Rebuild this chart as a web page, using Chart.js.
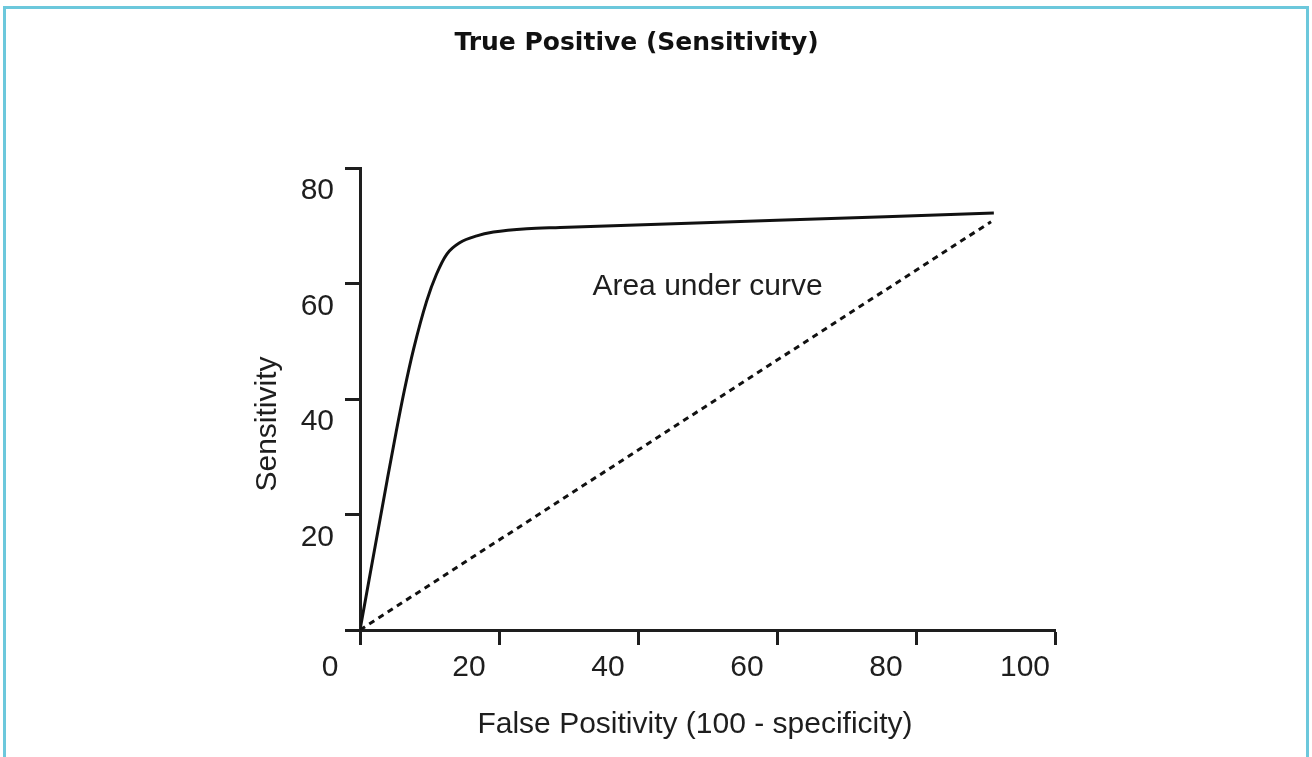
<!DOCTYPE html>
<html>
<head>
<meta charset="utf-8">
<script src="https://cdn.jsdelivr.net/npm/chart.js@4.4.1/dist/chart.umd.min.js"></script>
<style>
  body { margin: 0; background: #fff; overflow: hidden; }
  #frame {
    position: absolute; left: 3px; top: 6px;
    width: 1300px; height: 800px;
    border: 3px solid #6cc8dc; border-bottom: none;
  }
  #wrap { position: absolute; left: 0; top: 0; width: 1312px; height: 757px; }
</style>
</head>
<body>
<div id="frame"></div>
<div id="wrap"><canvas id="myChart"></canvas></div>
<script>
// ROC curve
const fpr = [0, 3.9, 5.2, 6.4, 7.7, 9.6, 11.0, 12.5, 14.4, 16.8, 19.2, 24.0, 28.8, 60, 91.2];
const sens = [0, 25.9, 34.3, 41.6, 48.6, 57.0, 61.6, 65.1, 67.1, 68.25, 68.9, 69.5, 69.7, 70.95, 72.2];

// dotted reference (chance) line
const chanceX = [0, 90.8];
const chanceY = [0, 70.7];

const xTicks = [0, 20, 40, 60, 80, 100];
const yTicks = [0, 20, 40, 60, 80];

const chartTitle = 'True Positive (Sensitivity)';
// trailing spaces nudge the centred titles to where the picture has them
const xTitle = 'False Positivity (100 - specificity)   ';
const yTitle = 'Sensitivity      ';
const areaLabel = 'Area under curve';
const areaLabelAt = { x: 50, y: 59.5 };

const ink = '#1e1e1e';
const textFont = { family: '"Liberation Sans", Arial, sans-serif', size: 30, weight: 'normal' };

const toPoints = (xs, ys) => xs.map((x, i) => ({ x: x, y: ys[i] }));

// writes the "Area under curve" note inside the plot
const areaNote = {
    id: 'areaNote',
    afterDatasetsDraw(chart) {
        const c = chart.ctx;
        const px = chart.scales.x.getPixelForValue(areaLabelAt.x);
        const py = chart.scales.y.getPixelForValue(areaLabelAt.y);
        c.save();
        c.font = '30px "Liberation Sans", Arial, sans-serif';
        c.fillStyle = ink;
        c.textAlign = 'center';
        c.textBaseline = 'middle';
        c.fillText(areaLabel, px, py);
        c.restore();
    }
};

var ctx = document.getElementById('myChart').getContext('2d');
var chart = new Chart(ctx, { //eslint-disable-line
    type: 'line',
    data: {
        datasets: [{
            label: 'ROC',
            data: toPoints(fpr, sens),
            borderColor: '#111',
            borderWidth: 3,
            pointRadius: 0,
            cubicInterpolationMode: 'monotone',
            fill: false
        }, {
            label: 'Chance',
            data: toPoints(chanceX, chanceY),
            borderColor: '#111',
            borderWidth: 3,
            borderDash: [6, 5],
            pointRadius: 0,
            fill: false
        }]
    },
    options: {
        responsive: true,
        maintainAspectRatio: false,
        animation: false,
        layout: { padding: { left: 218, right: 257, top: 0, bottom: 0 } },
        plugins: {
            legend: { display: false },
            tooltip: { enabled: false },
            title: {
                display: true,
                text: chartTitle,
                color: '#111',
                font: { family: '"DejaVu Sans", sans-serif', size: 25, weight: 'bold', lineHeight: 1.2 },
                padding: { top: 28, bottom: 110 }
            }
        },
        scales: {
            x: {
                type: 'linear',
                min: 0,
                max: 100,
                afterBuildTicks: (axis) => { axis.ticks = xTicks.map(v => ({ value: v })); },
                afterFit: (axis) => { axis.height = 127; },
                border: { display: true, color: ink, width: 3 },
                grid: { drawOnChartArea: false, drawTicks: true, tickLength: 15, tickWidth: 3, tickColor: ink },
                ticks: {
                    color: ink,
                    font: textFont,
                    padding: 5,
                    labelOffset: -30,
                    maxRotation: 0,
                    autoSkip: false
                },
                title: {
                    display: true,
                    text: xTitle,
                    color: ink,
                    font: textFont,
                    padding: { top: 0, bottom: 14 }
                }
            },
            y: {
                type: 'linear',
                min: 0,
                max: 80,
                afterBuildTicks: (axis) => { axis.ticks = yTicks.map(v => ({ value: v })); },
                afterFit: (axis) => { axis.width = 142; },
                border: { display: true, color: ink, width: 3 },
                grid: { drawOnChartArea: false, drawTicks: true, tickLength: 15, tickWidth: 3, tickColor: ink },
                ticks: {
                    color: ink,
                    font: textFont,
                    padding: 11,
                    labelOffset: 23,
                    autoSkip: false,
                    callback: (v) => (v === 0 ? '' : v)
                },
                title: {
                    display: true,
                    text: yTitle,
                    color: ink,
                    font: textFont,
                    padding: { top: 32, bottom: 0 }
                }
            }
        }
    },
    plugins: [areaNote]
});
</script>
</body>
</html>
